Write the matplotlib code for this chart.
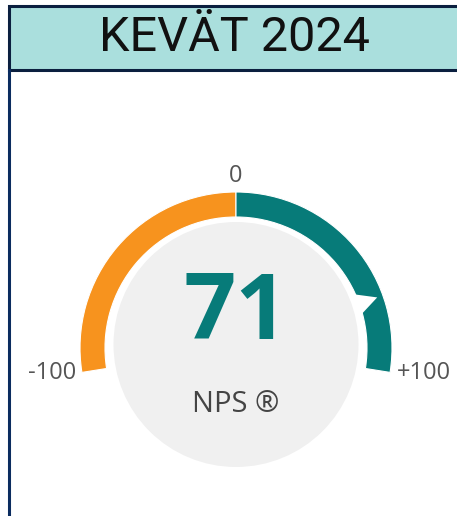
import numpy as np
import matplotlib.pyplot as plt
from matplotlib.patches import Wedge, Circle, Rectangle, Polygon

# Data
title = "KEVÄT 2024"
nps_value = 71
scale_min, scale_max = -100, 100
segment_edges = [-100, 0, 100]
segment_colors = ['#F7931E', '#077B79']
tick_values = [-100, 0, 100]
tick_labels = ['-100', '0', '+100']
caption = "NPS ®"

# gauge spans a bit more than half a circle
span_deg = 198


def to_angle(v):
    frac = (v - scale_min) / (scale_max - scale_min)
    return 90 + span_deg / 2 - frac * span_deg


fig = plt.figure(figsize=(4.57, 5.16), dpi=100)
ax = fig.add_axes([0, 0, 1, 1])
ax.set_xlim(0, 457)
ax.set_ylim(0, 516)
ax.set_aspect('equal')
ax.axis('off')

# header box
ax.add_patch(Rectangle((9, 446), 460, 64, facecolor='#AADFDD',
                       edgecolor='#0B1F3F', linewidth=2.2, clip_on=False))
ax.text(234, 478, title, ha='center', va='center', fontsize=35,
        family='Roboto', color='#111111')
# left border of the panel
ax.plot([8.5, 8.5], [0, 446], color='#0B2C5F', linewidth=2.2)

cx, cy = 236, 168
r_out, width = 156, 25

# grey disc
ax.add_patch(Circle((cx, cy + 3.5), 122.5, facecolor='#F0F0F0', edgecolor='none'))

# coloured segments
for lo, hi, col in zip(segment_edges[:-1], segment_edges[1:], segment_colors):
    ax.add_patch(Wedge((cx, cy), r_out, to_angle(hi), to_angle(lo),
                       width=width, facecolor=col, edgecolor='white',
                       linewidth=0.8))

# pointer
a = np.radians(to_angle(nps_value))
da = np.radians(5.5)
r_base, r_tip = 127, 150
pts = [(cx + r_base * np.cos(a + da), cy + r_base * np.sin(a + da)),
       (cx + r_tip * np.cos(a), cy + r_tip * np.sin(a)),
       (cx + r_base * np.cos(a - da), cy + r_base * np.sin(a - da))]
ax.add_patch(Polygon(pts, closed=True, facecolor='white', edgecolor='none'))

# tick labels
for v, lab in zip(tick_values, tick_labels):
    t = np.radians(to_angle(v))
    if v == 0:
        ax.text(cx, cy + r_out + 16, lab, ha='center', va='center',
                fontsize=17, family='Open Sans', color='#555555')
    elif v < 0:
        ax.text(52, cy + r_out * np.sin(t) - 1, lab, ha='center', va='center',
                fontsize=17, family='Open Sans', color='#555555')
    else:
        ax.text(424, cy + r_out * np.sin(t) - 1, lab, ha='center', va='center',
                fontsize=17, family='Open Sans', color='#555555')

# value and caption
ax.text(cx, 201, str(nps_value), ha='center', va='center', fontsize=66,
        fontweight='bold', family='Open Sans', color='#077B79')
ax.text(cx, 111, caption, ha='center', va='center', fontsize=21,
        family='Open Sans', color='#444444')

fig.savefig('out.png', dpi=100)
